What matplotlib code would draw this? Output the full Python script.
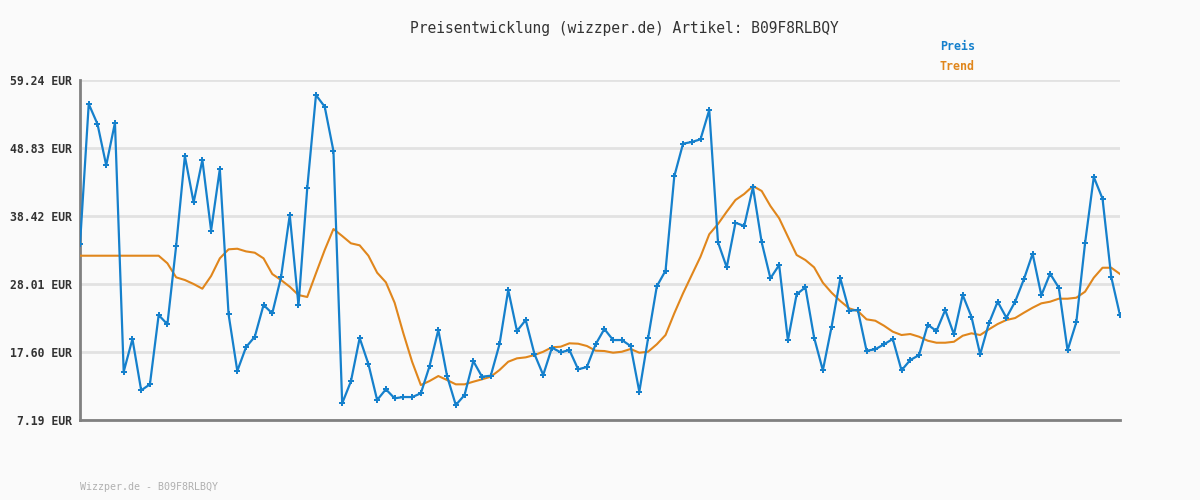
import matplotlib
matplotlib.use("Agg")
import matplotlib.pyplot as plt
import numpy as np

title = "Preisentwicklung (wizzper.de) Artikel: B09F8RLBQY"
footer = "Wizzper.de - B09F8RLBQY"
ytick_values = [7.19, 17.60, 28.01, 38.42, 48.83, 59.24]
ytick_labels = ["7.19 EUR", "17.60 EUR", "28.01 EUR", "38.42 EUR", "48.83 EUR", "59.24 EUR"]

preis = [34.09, 55.57, 52.5, 46.18, 52.7, 14.58, 19.59, 11.73, 12.65, 23.26,
         21.84, 33.83, 47.6, 40.5, 47.0, 36.2, 45.6, 23.37, 14.7, 18.35,
         19.94, 24.79, 23.52, 29.03, 38.57, 24.75, 42.66, 56.94, 55.15, 48.37,
         9.74, 13.11, 19.74, 15.76, 10.25, 11.89, 10.51, 10.71, 10.7, 11.27,
         15.45, 20.97, 13.92, 9.48, 11.01, 16.21, 13.82, 13.97, 18.78, 27.09,
         20.81, 22.5, 17.29, 14.08, 18.26, 17.55, 17.9, 14.95, 15.3, 18.78,
         21.12, 19.43, 19.43, 18.52, 11.52, 19.69, 27.65, 30.05, 44.5, 49.49,
         49.75, 50.16, 54.65, 34.4, 30.56, 37.39, 36.89, 42.81, 34.4, 28.88,
         30.92, 19.38, 26.43, 27.5, 19.8, 14.79, 21.47, 28.88, 23.93, 24.03,
         17.8, 18.01, 18.78, 19.59, 14.79, 16.37, 17.12, 21.78, 20.81, 24.03,
         20.3, 26.33, 23.0, 17.24, 21.99, 25.3, 22.85, 25.3, 28.73, 32.65,
         26.28, 29.59, 27.44, 17.85, 22.15, 34.24, 44.39, 41.07, 29.08, 23.22]

trend = [32.34, 32.34, 32.34, 32.34, 32.34, 32.34, 32.34, 32.34, 32.34, 32.34,
         31.18, 29.03, 28.62, 28.01, 27.29, 29.23, 31.94, 33.32, 33.41, 33.0,
         32.8, 31.94, 29.54, 28.62, 27.59, 26.32, 26.02, 29.65, 33.21, 36.43,
         35.36, 34.24, 33.93, 32.34, 29.74, 28.27, 25.14, 20.46, 16.11, 12.54,
         13.16, 13.92, 13.31, 12.65, 12.65, 13.05, 13.42, 13.82, 14.84, 16.11,
         16.63, 16.78, 17.14, 17.64, 18.32, 18.41, 18.93, 18.87, 18.52, 17.8,
         17.75, 17.49, 17.64, 18.06, 17.49, 17.64, 18.78, 20.2, 23.52, 26.58,
         29.39, 32.19, 35.62, 37.19, 39.08, 40.87, 41.79, 43.01, 42.25, 39.95,
         38.07, 35.25, 32.45, 31.68, 30.56, 28.21, 26.68, 25.4, 24.29, 23.87,
         22.6, 22.39, 21.62, 20.71, 20.2, 20.35, 19.94, 19.33, 19.02, 19.02,
         19.17, 20.09, 20.46, 20.2, 21.07, 21.88, 22.5, 22.8, 23.61, 24.38,
         25.05, 25.3, 25.76, 25.76, 25.91, 26.83, 28.97, 30.5, 30.5, 29.54]

blue = "#1580cc"
orange = "#e0861c"
bg = "#fafafa"
mono = "DejaVu Sans Mono"

fig = plt.figure(figsize=(12, 5), dpi=100, facecolor=bg)
ax = fig.add_axes([80/1200, 80/500, 1040/1200, 340/500], facecolor=bg)

x = np.arange(len(preis))
ax.plot(x, trend, color=orange, lw=1.5, zorder=3)
ax.plot(x, preis, color=blue, lw=1.6, marker="P", markersize=4.2,
        markeredgewidth=0, zorder=4)

ax.set_xlim(0, len(preis) - 1)
ax.set_ylim(ytick_values[0], ytick_values[-1])
ax.set_xticks([])
ax.set_yticks(ytick_values)
ax.set_yticklabels(ytick_labels, fontfamily=mono, fontweight="bold",
                   fontsize=8.3, color="#333333")
ax.tick_params(axis="y", length=0, pad=6)
ax.grid(axis="y", color="#e2e2e2", lw=2, zorder=0)
for s in ["top", "right"]:
    ax.spines[s].set_visible(False)
for s in ["left", "bottom"]:
    ax.spines[s].set_color("#808080")
    ax.spines[s].set_linewidth(2)

fig.text(624/1200, 1 - 28/500, title, ha="center", va="center",
         fontfamily=mono, fontsize=10.5, color="#333333")
fig.text(940/1200, 1 - 47/500, "Preis", ha="left", va="center",
         fontfamily=mono, fontsize=8.4, fontweight="bold", color=blue)
fig.text(940/1200, 1 - 67/500, "Trend", ha="left", va="center",
         fontfamily=mono, fontsize=8.4, fontweight="bold", color=orange)
fig.text(80/1200, 1 - 487/500, footer, ha="left", va="center",
         fontfamily=mono, fontsize=7.2, color="#b0b0b0")

fig.savefig("out.png", dpi=100, facecolor=bg)
